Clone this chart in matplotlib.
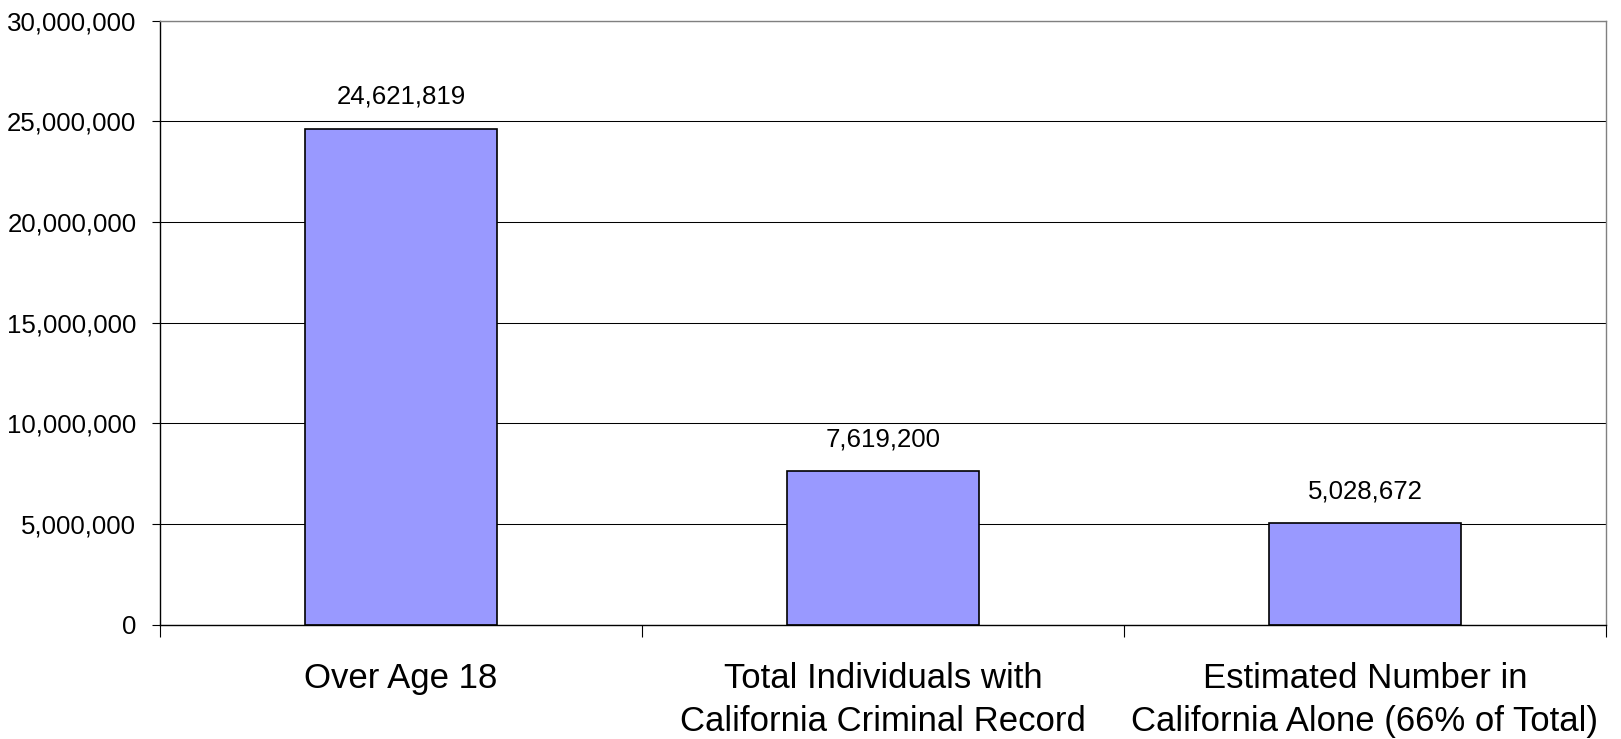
import matplotlib
matplotlib.use("Agg")
import matplotlib.pyplot as plt
from matplotlib.ticker import FuncFormatter, FixedLocator

# counts of individuals
categories = ["Over Age 18",
              "Total Individuals with\nCalifornia Criminal Record",
              "Estimated Number in\nCalifornia Alone (66% of Total)"]
values = [24621819, 7619200, 5028672]
yticks = [0, 5000000, 10000000, 15000000, 20000000, 25000000, 30000000]

plt.rcParams['font.family'] = ['Liberation Sans', 'DejaVu Sans']

fig = plt.figure(figsize=(16.21, 7.39), dpi=100)
ax = fig.add_axes([0.0987, 0.1549, 0.892, 0.8171])

pos = range(len(values))
ax.set_axisbelow(True)
ax.yaxis.grid(True, color='black', linewidth=0.75)
bars = ax.bar(pos, values, width=0.4, color='#9999FF', edgecolor='black', linewidth=1.2)

for x, v in zip(pos, values):
    ax.annotate("{:,}".format(v), (x, v), xytext=(0, 18), textcoords='offset points',
                ha='center', va='baseline', fontsize=18.6)

ax.set_xlim(-0.5, 2.5)
ax.set_ylim(yticks[0], yticks[-1])
ax.set_yticks(yticks)
ax.yaxis.set_major_formatter(FuncFormatter(lambda v, p: "{:,}".format(int(v))))

ax.set_xticks(list(pos))
ax.set_xticklabels(categories, fontsize=25, linespacing=1.38)
ax.xaxis.set_minor_locator(FixedLocator([-0.5, 0.5, 1.5, 2.5]))
ax.tick_params(axis='x', which='major', length=0, pad=27)
ax.tick_params(axis='x', which='minor', length=8.6, width=0.8, color='black', direction='out')
ax.tick_params(axis='y', length=6, width=0.8, pad=11, labelsize=18.6)

for side in ['left', 'bottom']:
    ax.spines[side].set_color('black')
    ax.spines[side].set_linewidth(1.0)
for side in ['top', 'right']:
    ax.spines[side].set_color('#808080')
    ax.spines[side].set_linewidth(1.0)

fig.savefig("out.png", dpi=100)
